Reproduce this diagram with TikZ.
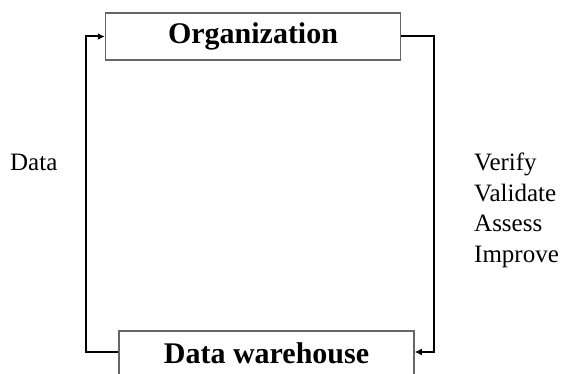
\documentclass[tikz,border=0pt]{standalone}
\usepackage{fontspec}
\setmainfont{Liberation Serif}
\usetikzlibrary{arrows.meta}

\tikzset{
  box/.style={draw=black!60,line width=1.5pt,minimum width=295pt,inner sep=0pt,
    font=\fontsize{30}{36}\selectfont\bfseries},
  link/.style={black,line width=2pt,-{Latex[length=7pt,width=7pt]}},
  lbl/.style={anchor=base west,inner sep=0pt,align=left,
    font=\fontsize{25}{30.5}\selectfont}
}

\begin{document}
\begin{tikzpicture}[x=1pt,y=-1pt]
  \useasboundingbox (0,0) rectangle (566,374);
  \clip (0,0) rectangle (566,374);
  \node[box,minimum height=47pt] (org) at (253,36.5) {Organization};
  % lower box runs off the bottom edge
  \node[box,minimum height=50pt,text height=20pt,text depth=4pt] (dw) at (266.5,356) {Data warehouse};
  \draw [link] ([yshift=4pt]dw.west) -| ([xshift=-19pt]org.west) -- (org.west);
  \draw [link] (org.east) -| ([xshift=19pt,yshift=4pt]dw.east) -- ([yshift=4pt]dw.east);
  \node[lbl] (data) at (10,171) {Data};
  % base sits on the last line
  \node[lbl] (steps) at (474,262.5) {Verify\\Validate\\Assess\\Improve};
\end{tikzpicture}
\end{document}
